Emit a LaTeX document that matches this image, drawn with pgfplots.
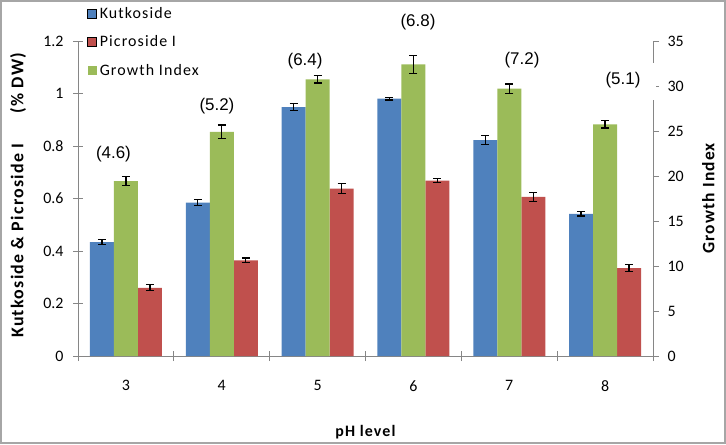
\documentclass[border=0pt]{standalone}
\usepackage{pgfplots}
\pgfplotsset{compat=1.18}
\usepackage{pgfplotstable}
\usepackage{fontspec}
\setmainfont{Carlito}
\newfontfamily\widefont[LetterSpace=7]{Carlito}
\newfontfamily\arialfont{Liberation Sans}
\definecolor{kblue}{HTML}{4F81BD}
\definecolor{pred}{HTML}{C0504D}
\definecolor{ggreen}{HTML}{9BBB59}
\definecolor{axgray}{HTML}{868686}

\pgfplotstableread{
x y e
3 0.434 0.010
4 0.584 0.011
5 0.948 0.014
6 0.980 0.005
7 0.822 0.017
8 0.541 0.008
}\kut
\pgfplotstableread{
x y e
3 0.260 0.011
4 0.364 0.009
5 0.638 0.018
6 0.668 0.008
7 0.606 0.016
8 0.335 0.013
}\pic
\pgfplotstableread{
x y e
3 19.44 0.50
4 24.90 0.76
5 30.75 0.42
6 32.40 0.98
7 29.70 0.52
8 25.75 0.41
}\gi

\begin{document}
\begin{tikzpicture}[font=\fontsize{16}{19}\selectfont]
\pgfplotsset{
  base/.style={
    scale only axis, width=575bp, height=315bp,
    xmin=2.5, xmax=8.5, ymin=0,
    /pgf/number format/assume math mode=true,
    axis line style={axgray, line width=0.9bp},
    tick style={axgray, line width=0.9bp},
    major tick length=6bp,
    tick align=outside,
    ybar, bar width=24bp,
    error bars/error bar style={black, line width=1.2bp},
    error bars/error mark options={black, rotate=90, mark size=4bp, line width=1.2bp},
    legend image code/.code={\fill[##1] (0bp,-4.5bp) rectangle (9bp,4.5bp);},
  },
}
\begin{axis}[base, name=ax1,
  ymax=1.2,
  axis x line*=bottom, axis y line*=left,
  tick align=center, major tick length=10bp,
  xtick={2.5,3.5,4.5,5.5,6.5,7.5,8.5},
  xticklabels={3,4,5,6,7,8,{}},
  x tick label style={xshift=47.9bp, yshift=-16bp},
  ytick={0,0.2,0.4,0.6,0.8,1,1.2},
  yticklabels={0,0.2,0.4,0.6,0.8,1,1.2},
  yticklabel style={xshift=-6bp},
  xlabel={\widefont\bfseries pH level},
  xlabel style={at={(axis description cs:0.5,-0.241)}, anchor=center},
  clip=false,
]
\addplot[ybar, bar shift=-24bp, fill=kblue, draw=none,
  error bars/.cd, y dir=both, y explicit]
  table[x=x, y=y, y error=e]{\kut};
\addplot[ybar, bar shift=24bp, fill=pred, draw=none,
  error bars/.cd, y dir=both, y explicit]
  table[x=x, y=y, y error=e]{\pic};
\node[rotate=90, font=\widefont\fontsize{18}{22}\selectfont\bfseries] at (axis description cs:-0.104,0.51)
  {Kutkoside \& Picroside I\hspace{30bp}(\% DW)};
\end{axis}
\begin{axis}[base, name=ax2,
  ymax=35,
  axis x line=none, axis y line*=right,
  ytick={0,5,10,15,20,25,30,35},
  yticklabel style={xshift=5bp},
  clip=false,
  legend style={at={(axis description cs:0.016,1.115)}, anchor=north west,
    draw=none, fill=none, row sep=12bp, inner sep=0pt,
    cells={anchor=west}, nodes={inner xsep=3bp, font=\widefont\fontsize{16}{19}\selectfont}},
]
\addlegendimage{fill=kblue}
\addlegendentry{Kutkoside}
\addlegendimage{fill=pred}
\addlegendentry{Picroside I}
\addplot[ybar, bar shift=0bp, fill=ggreen, draw=none,
  error bars/.cd, y dir=both, y explicit]
  table[x=x, y=y, y error=e]{\gi};
\addlegendentry{Growth Index}
\fill[white] (axis cs:8.22,32.6) rectangle (axis cs:8.53,28.5);
\node[font=\arialfont\fontsize{17}{20}\selectfont] at (axis cs:2.870,22.4) {(4.6)};
\node[font=\arialfont\fontsize{17}{20}\selectfont] at (axis cs:3.950,27.8) {(5.2)};
\node[font=\arialfont\fontsize{17}{20}\selectfont] at (axis cs:4.869,32.8) {(6.4)};
\node[font=\arialfont\fontsize{17}{20}\selectfont] at (axis cs:6.048,37.1) {(6.8)};
\node[font=\arialfont\fontsize{17}{20}\selectfont] at (axis cs:7.133,32.9) {(7.2)};
\node[font=\arialfont\fontsize{17}{20}\selectfont] at (axis cs:8.187,30.7) {(5.1)};
\node[rotate=90, font=\widefont\fontsize{17.5}{22}\selectfont\bfseries] at (axis description cs:1.096,0.5) {Growth Index};
\end{axis}
\draw[black!35, line width=2bp] ([shift={(-77bp,-87bp)}]ax1.south west) rectangle ([shift={(72bp,40bp)}]ax1.north east);
\end{tikzpicture}
\end{document}
